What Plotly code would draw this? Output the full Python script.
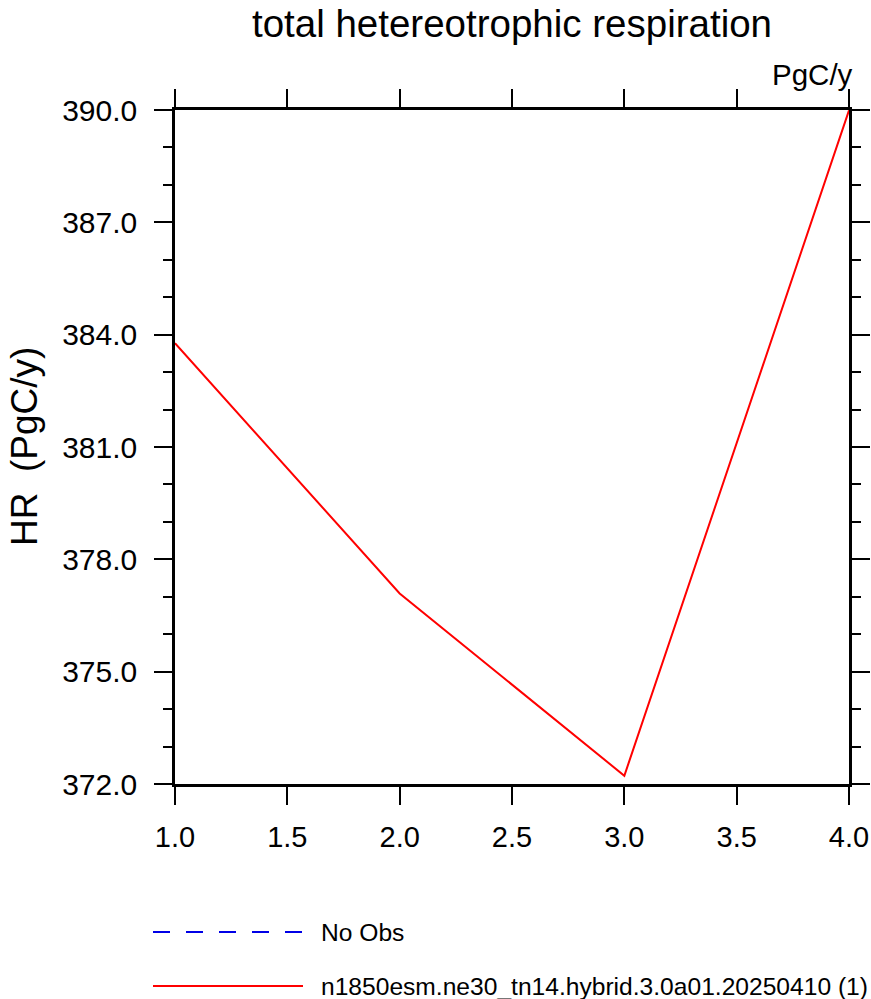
import plotly.graph_objects as go

# values
years = [1, 2, 3, 4]
hr_values = [383.77, 377.09, 372.22, 389.99]

# legend entries (NCL style legend under the plot)
legend_names = ["No Obs", "n1850esm.ne30_tn14.hybrid.3.0a01.20250410 (1)"]
legend_colors = ["#0000e6", "#ff0000"]
legend_dashes = ["17px,16px", "solid"]
legend_widths = [2, 2]

FONT = "Liberation Sans, Arial, sans-serif"

W, H = 871, 999
L, T = 175, 110
PW, PH = 674, 674

fig = go.Figure()

fig.add_trace(go.Scatter(x=years, y=hr_values, mode="lines",
                         name=legend_names[1], showlegend=False,
                         line=dict(color=legend_colors[1], width=2)))

axis_common = dict(
    showline=True, linecolor="black", linewidth=2.5, mirror="ticks",
    ticks="outside", ticklen=18, tickwidth=2, tickcolor="black",
    showgrid=False, zeroline=False,
)

fig.update_xaxes(range=[1, 4], dtick=0.5, tick0=1, tickformat=".1f",
                 ticklabelstandoff=7,
                 tickfont=dict(family=FONT, size=29, color="black"),
                 **axis_common)
fig.update_yaxes(range=[372, 390], dtick=3, tick0=372, tickformat=".1f",
                 ticklabelstandoff=11,
                 tickfont=dict(family=FONT, size=30, color="black"),
                 minor=dict(dtick=1, ticks="outside", ticklen=9,
                            tickwidth=1.5, tickcolor="black"),
                 **axis_common)

# legend drawn by hand: key line + label per entry, rows 54px apart
px_x = lambda p: (p - L) / PW
px_y = lambda p: (T + PH - p) / PH
for i, (name, col, dash, lw) in enumerate(zip(legend_names, legend_colors,
                                               legend_dashes, legend_widths)):
    row = 932 + 54 * i
    fig.add_shape(type="line", xref="paper", yref="paper",
                  x0=px_x(153), x1=px_x(303), y0=px_y(row), y1=px_y(row),
                  line=dict(color=col, width=lw, dash=dash))
    fig.add_annotation(text=name, xref="paper", yref="paper",
                       x=px_x(319), y=px_y(row), xanchor="left",
                       yanchor="middle", showarrow=False,
                       font=dict(family=FONT, size=24.6, color="black"))

fig.update_layout(
    width=W, height=H,
    paper_bgcolor="white", plot_bgcolor="white",
    margin=dict(l=L, r=W - L - PW, t=T, b=H - T - PH, autoexpand=False),
    font=dict(family=FONT, color="black"),
    title=dict(text="total hetereotrophic respiration",
               font=dict(family=FONT, size=38.5, color="black"),
               x=0.5, xref="paper", y=1 - 24 / H, yref="container",
               xanchor="center", yanchor="middle"),
    showlegend=False,
)
fig.add_annotation(text="PgC/y", xref="paper", yref="paper", x=1.0, y=1.0,
                   xanchor="right", yanchor="bottom", xshift=6, yshift=17,
                   showarrow=False,
                   font=dict(family=FONT, size=29.5, color="black"))
fig.add_annotation(text="HR  (PgC/y)", xref="paper", yref="paper",
                   x=px_x(24), y=0.5, textangle=-90,
                   xanchor="center", yanchor="middle", showarrow=False,
                   font=dict(family=FONT, size=37, color="black"))

# drop the default 8px body margin so the figure fills the window
fig.write_html("out.html", config={"displayModeBar": False},
               post_script="document.body.style.margin='0';")
